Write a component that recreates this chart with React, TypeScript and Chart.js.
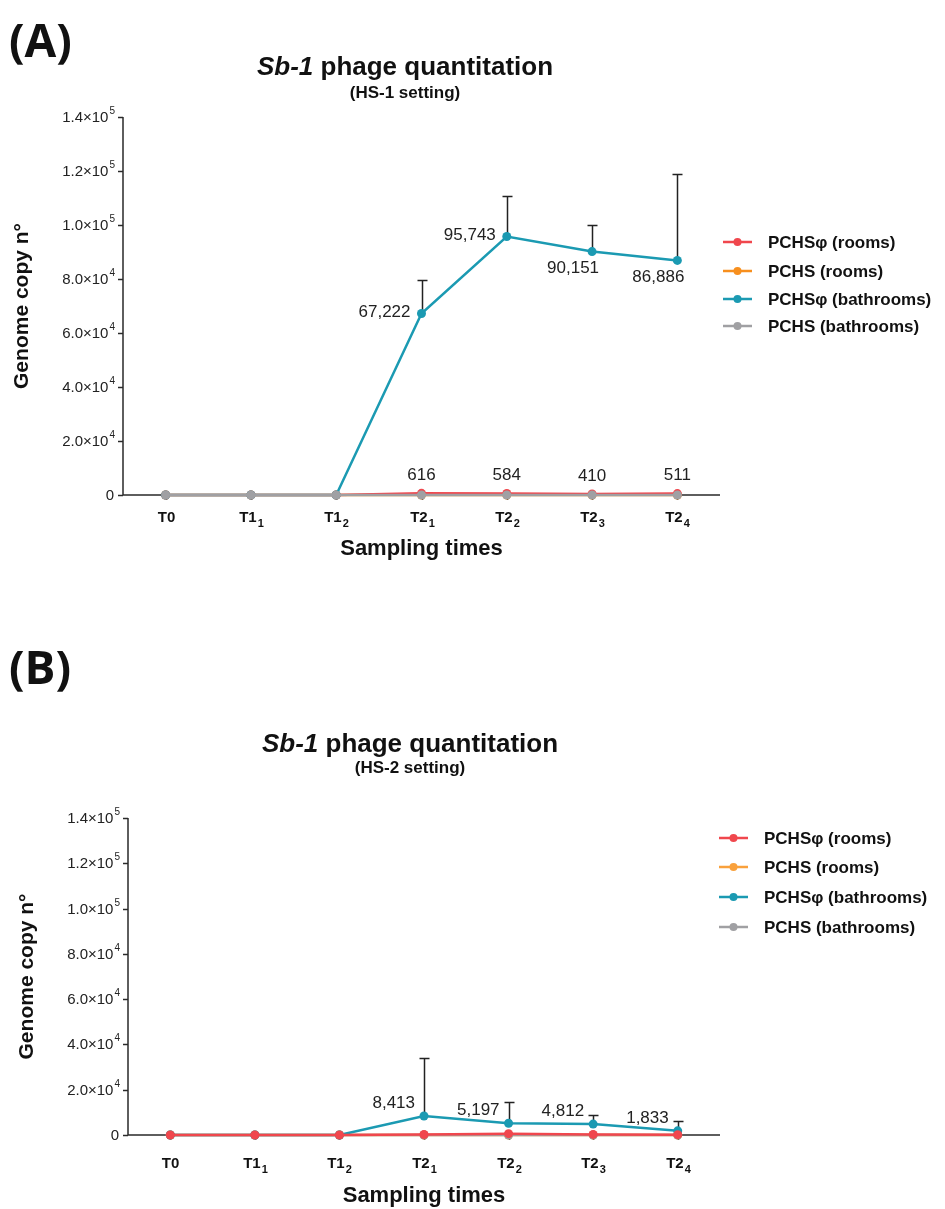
import React, { useEffect, useRef } from 'react';
import { Chart, registerables } from 'chart.js';

Chart.register(...registerables);

// ---------- data ----------
const categories = ['T0', 'T1', 'T1', 'T2', 'T2', 'T2', 'T2'];
const categorySubs = ['', '1', '2', '1', '2', '3', '4'];
const seriesNames = ['PCHSφ (rooms)', 'PCHS (rooms)', 'PCHSφ (bathrooms)', 'PCHS (bathrooms)'];

const yTickValues = [0, 20000, 40000, 60000, 80000, 100000, 120000, 140000];
const yTickMantissa = ['0', '2.0', '4.0', '6.0', '8.0', '1.0', '1.2', '1.4'];
const yTickExponent = ['', '4', '4', '4', '4', '5', '5', '5'];

// Panel A (HS-1 setting)
const roomsPhiA = [0, 0, 0, 616, 584, 410, 511];
const roomsA = [0, 0, 0, 0, 0, 0, 0];
const bathPhiA = [0, 0, 0, 67222, 95743, 90151, 86886];
const bathPhiErrA = [0, 0, 0, 12400, 15000, 9850, 32000];
const bathA = [0, 0, 0, 0, 0, 0, 0];

// Panel B (HS-2 setting)
const roomsPhiB = [0, 0, 0, 200, 600, 250, 150];
const roomsB = [0, 0, 0, 0, 0, 0, 0];
const bathPhiB = [0, 0, 0, 8413, 5197, 4812, 1833];
const bathPhiErrB = [0, 0, 0, 25600, 9400, 4000, 4350];
const bathB = [0, 0, 0, 0, 0, 0, 0];

// ---------- styles ----------
const FONT = '"Liberation Sans", Arial, sans-serif';
const AXIS = '#2a2a2a';
const RED = '#f0474d';
const TEAL = '#1b9ab2';
const GRAY = '#a0a0a3';

type LabelPlace = '' | 'left' | 'below' | 'above' | 'leftUp';

interface PanelSpec {
  key: string;
  letter: string;
  subtitle: string;
  height: number;
  left: number; right: number; top: number; bottom: number;
  letterY: number; titleX: number; titleY: number; subtitleY: number;
  legendX: number; legendY: number[];
  xTickY: number; xTitleY: number; yTitleX: number;
  colors: string[];
  orders: number[];
  values: number[][];
  errors: (number[] | null)[];
  labelPlaces: (LabelPlace[] | null)[];
}

const panelA: PanelSpec = {
  key: 'A', letter: '(A)', subtitle: '(HS-1 setting)', height: 600,
  left: 123, right: 720, top: 117, bottom: 495,
  letterY: 44, titleX: 405, titleY: 68, subtitleY: 93,
  legendX: 723, legendY: [242, 271, 299, 326],
  xTickY: 518, xTitleY: 549, yTitleX: 22,
  colors: [RED, '#f78f1e', TEAL, GRAY],
  orders: [2, 3, 1, 0],
  values: [roomsPhiA, roomsA, bathPhiA, bathA],
  errors: [null, null, bathPhiErrA, null],
  labelPlaces: [
    ['', '', '', 'above', 'above', 'above', 'above'],
    null,
    ['', '', '', 'left', 'left', 'below', 'below'],
    null,
  ],
};

const panelB: PanelSpec = {
  key: 'B', letter: '(B)', subtitle: '(HS-2 setting)', height: 609,
  left: 128, right: 720, top: 218, bottom: 535,
  letterY: 71, titleX: 410, titleY: 145, subtitleY: 168,
  legendX: 719, legendY: [238, 267, 297, 327],
  xTickY: 564, xTitleY: 596, yTitleX: 27,
  colors: [RED, '#f9a13c', TEAL, GRAY],
  orders: [0, 3, 1, 2],
  values: [roomsPhiB, roomsB, bathPhiB, bathB],
  errors: [null, null, bathPhiErrB, null],
  labelPlaces: [null, null, ['', '', '', 'leftUp', 'leftUp', 'leftUp', 'leftUp'], null],
};

function makePlugin(p: PanelSpec) {
  return {
    id: 'decor' + p.key,
    beforeDatasetsDraw(chart: any) {
      const { ctx, chartArea: a } = chart;
      const xs = chart.scales.x;
      const ys = chart.scales.y;
      ctx.save();
      ctx.strokeStyle = AXIS;
      ctx.lineWidth = 1.5;
      ctx.beginPath();
      ctx.moveTo(a.left, a.top);
      ctx.lineTo(a.left, a.bottom);
      ctx.lineTo(a.right, a.bottom);
      ctx.stroke();
      yTickValues.forEach((v, i) => {
        const py = Math.round(ys.getPixelForValue(v)) + 0.5;
        ctx.beginPath();
        ctx.moveTo(a.left - 5, py);
        ctx.lineTo(a.left, py);
        ctx.stroke();
        const mant = yTickMantissa[i];
        const exp = yTickExponent[i];
        ctx.fillStyle = '#222';
        ctx.textBaseline = 'middle';
        if (!exp) {
          ctx.font = `400 15px ${FONT}`;
          ctx.textAlign = 'right';
          ctx.fillText(mant, a.left - 9, py);
        } else {
          ctx.font = `400 10px ${FONT}`;
          const we = ctx.measureText(exp).width;
          ctx.textAlign = 'right';
          ctx.fillText(exp, a.left - 8, py - 6);
          ctx.font = `400 15px ${FONT}`;
          ctx.fillText(mant + '\u00d710', a.left - 9 - we, py);
        }
      });
      categories.forEach((c, i) => {
        const px = Math.round(xs.getPixelForValue(i)) + 0.5;
        ctx.beginPath();
        ctx.moveTo(px, a.bottom);
        ctx.lineTo(px, a.bottom + 5);
        ctx.stroke();
        const sub = categorySubs[i];
        ctx.fillStyle = '#111';
        ctx.textBaseline = 'middle';
        ctx.textAlign = 'left';
        ctx.font = `700 15px ${FONT}`;
        const wb = ctx.measureText(c).width;
        ctx.font = `700 11px ${FONT}`;
        const ws = sub ? ctx.measureText(sub).width + 1 : 0;
        const x0 = px - (wb + ws) / 2;
        ctx.font = `700 15px ${FONT}`;
        ctx.fillText(c, x0, p.xTickY);
        if (sub) {
          ctx.font = `700 11px ${FONT}`;
          ctx.fillText(sub, x0 + wb + 1, p.xTickY + 6);
        }
      });
      ctx.strokeStyle = '#222';
      ctx.lineWidth = 1.5;
      p.errors.forEach((errs, di) => {
        if (!errs) return;
        errs.forEach((e, i) => {
          if (!e) return;
          const v = p.values[di][i];
          const px = Math.round(xs.getPixelForValue(i)) + 0.5;
          const py = ys.getPixelForValue(v);
          const pt = Math.round(ys.getPixelForValue(v + e)) + 0.5;
          ctx.beginPath();
          ctx.moveTo(px, py);
          ctx.lineTo(px, pt);
          ctx.moveTo(px - 5, pt);
          ctx.lineTo(px + 5, pt);
          ctx.stroke();
        });
      });
      ctx.restore();
    },
    afterDraw(chart: any) {
      const { ctx, chartArea: a } = chart;
      const xs = chart.scales.x;
      const ys = chart.scales.y;
      ctx.save();
      ctx.fillStyle = '#111';
      ctx.font = `700 46px "Open Sans", ${FONT}`;
      ctx.textAlign = 'left';
      ctx.textBaseline = 'middle';
      ctx.fillText(p.letter, 9, p.letterY);
      const t1 = 'Sb-1';
      const t2 = ' phage quantitation';
      ctx.font = `italic 700 26px ${FONT}`;
      const w1 = ctx.measureText(t1).width;
      ctx.font = `700 26px ${FONT}`;
      const w2 = ctx.measureText(t2).width;
      const tx = p.titleX - (w1 + w2) / 2;
      ctx.font = `italic 700 26px ${FONT}`;
      ctx.fillText(t1, tx, p.titleY);
      ctx.font = `700 26px ${FONT}`;
      ctx.fillText(t2, tx + w1, p.titleY);
      ctx.font = `700 17px ${FONT}`;
      ctx.textAlign = 'center';
      ctx.fillText(p.subtitle, p.titleX, p.subtitleY);
      ctx.font = `700 22px ${FONT}`;
      ctx.fillText('Sampling times', (a.left + a.right) / 2, p.xTitleY);
      ctx.save();
      ctx.translate(p.yTitleX, (a.top + a.bottom) / 2);
      ctx.rotate(-Math.PI / 2);
      ctx.font = `700 21px ${FONT}`;
      ctx.fillText('Genome copy n\u00b0', 0, 0);
      ctx.restore();
      seriesNames.forEach((name, i) => {
        const ly = p.legendY[i];
        ctx.strokeStyle = p.colors[i];
        ctx.lineWidth = 2.5;
        ctx.beginPath();
        ctx.moveTo(p.legendX, ly);
        ctx.lineTo(p.legendX + 29, ly);
        ctx.stroke();
        ctx.fillStyle = p.colors[i];
        ctx.beginPath();
        ctx.arc(p.legendX + 14.5, ly, 4, 0, Math.PI * 2);
        ctx.fill();
        ctx.fillStyle = '#111';
        ctx.font = `700 17px ${FONT}`;
        ctx.textAlign = 'left';
        ctx.textBaseline = 'middle';
        ctx.fillText(name, p.legendX + 45, ly + 1);
      });
      ctx.font = `400 17px ${FONT}`;
      ctx.fillStyle = '#222';
      ctx.textBaseline = 'middle';
      p.labelPlaces.forEach((places, di) => {
        if (!places) return;
        places.forEach((pl, i) => {
          if (!pl) return;
          const v = p.values[di][i];
          const txt = v.toLocaleString('en-US');
          const px = xs.getPixelForValue(i);
          const py = ys.getPixelForValue(v);
          if (pl === 'left') {
            ctx.textAlign = 'right';
            ctx.fillText(txt, px - 11, py - 1);
          } else if (pl === 'leftUp') {
            ctx.textAlign = 'right';
            ctx.fillText(txt, px - 9, py - 13);
          } else if (pl === 'below') {
            ctx.textAlign = 'center';
            ctx.fillText(txt, px - 19, py + 17);
          } else if (pl === 'above') {
            ctx.textAlign = 'center';
            ctx.fillText(txt, px, py - 18);
          }
        });
      });
      ctx.restore();
    },
  };
}

function makeConfig(p: PanelSpec): any {
  return {
    type: 'line',
    data: {
      labels: categories.map((c, i) => c + categorySubs[i]),
      datasets: seriesNames.map((name, i) => ({
        label: name,
        data: p.values[i],
        borderColor: p.colors[i],
        backgroundColor: p.colors[i],
        pointBackgroundColor: p.colors[i],
        pointBorderColor: p.colors[i],
        pointBorderWidth: 0,
        pointRadius: 4.5,
        borderWidth: 2.5,
        tension: 0,
        fill: false,
        clip: false,
        order: p.orders[i],
      })),
    },
    options: {
      animation: false,
      responsive: false,
      devicePixelRatio: 1,
      layout: {
        padding: { left: p.left, right: 945 - p.right, top: p.top, bottom: p.height - p.bottom },
      },
      plugins: {
        legend: { display: false },
        tooltip: { enabled: false },
        title: { display: false },
      },
      scales: {
        x: { type: 'category', display: false, offset: true },
        y: { type: 'linear', display: false, min: 0, max: 140000 },
      },
    },
    plugins: [makePlugin(p)],
  };
}

function Panel({ spec }: { spec: PanelSpec }) {
  const ref = useRef<HTMLCanvasElement>(null);
  useEffect(() => {
    const chart = new Chart(ref.current as HTMLCanvasElement, makeConfig(spec));
    return () => chart.destroy();
  }, [spec]);
  return (
    <canvas
      ref={ref}
      width={945}
      height={spec.height}
      style={{ display: 'block', width: 945, height: spec.height }}
    />
  );
}

export default function App() {
  return (
    <div style={{ position: 'absolute', left: 0, top: 0, width: 945, height: 1209, background: '#fff', overflow: 'hidden' }}>
      <Panel spec={panelA} />
      <Panel spec={panelB} />
    </div>
  );
}
